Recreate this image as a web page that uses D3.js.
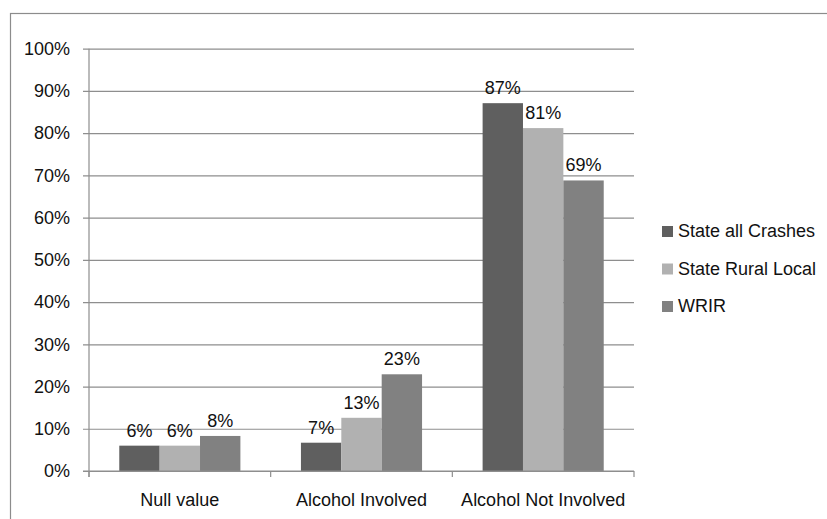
<!DOCTYPE html>
<html>
<head>
<meta charset="utf-8">
<script src="https://cdn.jsdelivr.net/npm/d3@7"></script>
<style>
  html, body { margin: 0; padding: 0; background: #fff; }
  svg { display: block; }
  text { font-family: "Liberation Sans", Arial, sans-serif; fill: #111; }
</style>
</head>
<body>
<svg id="chart" width="827" height="519"></svg>
<script>
const categories = ["Null value", "Alcohol Involved", "Alcohol Not Involved"];
const seriesNames = ["State all Crashes", "State Rural Local", "WRIR"];
const stateAllCrashes = [0.060, 0.067, 0.871];
const stateRuralLocal = [0.060, 0.126, 0.812];
const wrir = [0.083, 0.229, 0.688];
const yTicks = [0, 0.1, 0.2, 0.3, 0.4, 0.5, 0.6, 0.7, 0.8, 0.9, 1.0];
const seriesColors = ["#5f5f5f", "#b1b1b1", "#818181"];

const seriesValues = [stateAllCrashes, stateRuralLocal, wrir];
const svg = d3.select("#chart");

// outer frame
svg.append("rect")
  .attr("x", 10.5).attr("y", 13.5)
  .attr("width", 840).attr("height", 540)
  .attr("fill", "none").attr("stroke", "#8c8c8c").attr("stroke-width", 1.2);

const plotLeft = 89, plotRight = 634, plotTop = 48.7, plotBottom = 471;
const y = d3.scaleLinear().domain([0, 1]).range([plotBottom, plotTop]);
const x0 = d3.scaleBand().domain(categories).range([plotLeft, plotRight]).paddingInner(0).paddingOuter(0);
const x1 = d3.scaleBand().domain(seriesNames).range([0, x0.bandwidth()]).paddingInner(0).paddingOuter(0.75);

// gridlines + y axis
const yAxis = d3.axisLeft(y).tickValues(yTicks).tickFormat(d3.format(".0%"))
  .tickSize(-(plotRight - plotLeft)).tickPadding(19);
const gy = svg.append("g").attr("transform", `translate(${plotLeft},0)`).call(yAxis);
gy.select(".domain").remove();
gy.selectAll(".tick line").attr("stroke", "#8e8e8e").attr("stroke-width", 1.2).attr("x1", -6);
gy.selectAll(".tick text").attr("font-size", 18).attr("fill", "#111")
  .attr("font-family", "Liberation Sans, Arial, sans-serif");

// y axis line
svg.append("line").attr("x1", plotLeft).attr("x2", plotLeft).attr("y1", plotTop).attr("y2", plotBottom + 6)
  .attr("stroke", "#8e8e8e").attr("stroke-width", 1.2);

// bars
const groups = svg.append("g").selectAll("g").data(categories).join("g")
  .attr("transform", d => `translate(${x0(d)},0)`);
seriesNames.forEach((s, si) => {
  groups.append("rect")
    .attr("x", x1(s)).attr("width", x1.bandwidth())
    .attr("y", (d, i) => y(seriesValues[si][i]))
    .attr("height", (d, i) => plotBottom - y(seriesValues[si][i]))
    .attr("fill", seriesColors[si]);
  groups.append("text")
    .attr("x", x1(s) + x1.bandwidth() / 2)
    .attr("y", (d, i) => y(seriesValues[si][i]) - 9)
    .attr("text-anchor", "middle").attr("font-size", 18)
    .text((d, i) => d3.format(".0%")(seriesValues[si][i]));
});

// x axis
const xAxis = d3.axisBottom(x0).tickSize(0).tickPadding(22);
const gx = svg.append("g").attr("transform", `translate(0,${plotBottom})`).call(xAxis);
gx.select(".domain").remove();
gx.selectAll(".tick text").attr("font-size", 18).attr("fill", "#111")
  .attr("font-family", "Liberation Sans, Arial, sans-serif");
svg.append("line").attr("x1", plotLeft - 6).attr("x2", plotRight).attr("y1", plotBottom).attr("y2", plotBottom)
  .attr("stroke", "#8e8e8e").attr("stroke-width", 1.2);
const boundaries = categories.map(c => x0(c)).concat([x0.range()[1]]);
svg.append("g").selectAll("line").data(boundaries).join("line")
  .attr("x1", d => d).attr("x2", d => d).attr("y1", plotBottom).attr("y2", plotBottom + 6)
  .attr("stroke", "#8e8e8e").attr("stroke-width", 1.2);

// legend
const legend = svg.append("g").selectAll("g").data(seriesNames).join("g")
  .attr("transform", (d, i) => `translate(662,${237 + i * 37.5})`);
legend.append("rect").attr("x", 0).attr("y", -11).attr("width", 11).attr("height", 11)
  .attr("fill", (d, i) => seriesColors[i]);
legend.append("text").attr("x", 16).attr("y", 0).attr("font-size", 18).text(d => d);
</script>
</body>
</html>
